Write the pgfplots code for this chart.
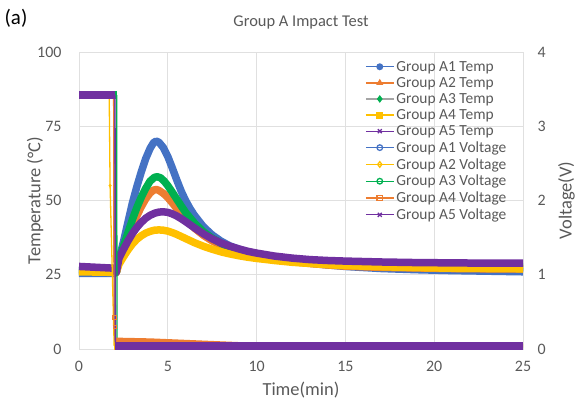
\documentclass[border=0pt]{standalone}
\usepackage{pgfplots}
\pgfplotsset{compat=1.18}
\usepackage{fontspec}
\setmainfont{Carlito}
\definecolor{cblue}{HTML}{4472C4}
\definecolor{corange}{HTML}{ED7D31}
\definecolor{cgray}{HTML}{A5A5A5}
\definecolor{cgold}{HTML}{FFC000}
\definecolor{cpurple}{HTML}{7030A0}
\definecolor{cgreen}{HTML}{00B050}
\definecolor{txt}{HTML}{595959}
\definecolor{gridc}{HTML}{E0E0E0}
\begin{document}
\begin{tikzpicture}[x=1bp,y=1bp]
\pgfplotsset{
  base/.style={scale only axis, width=444bp, height=297bp, at={(0,0)}, anchor=south west,
    xmin=0, xmax=25, clip=false,
    tick style={draw=none}, major tick length=0pt,
    ticklabel style={font=\fontsize{16}{18}\selectfont, text=txt},
    /pgf/number format/assume math mode=true,
    label style={font=\fontsize{18.5}{20}\selectfont, text=txt}},
  tcurve/.style={line width=7.5bp, line join=round, mark=none},
  vthick/.style={line width=8bp, mark=none},
  vthin/.style={line width=1.3bp, mark=none},
}
\begin{axis}[base,
  ymin=0, ymax=100, xtick={0,5,...,25}, ytick={0,25,...,100},
  grid=major, major grid style={draw=gridc, line width=0.8bp},
  axis line style={draw=gridc, line width=0.8bp},
  xticklabel style={yshift=-9bp}, yticklabel style={xshift=-14bp},
  xlabel={Time(min)}, ylabel={Temperature (\textdegree C)},
  xlabel style={at={(axis description cs:0.5,0)}, anchor=center, yshift=-41bp},
  ylabel style={at={(axis description cs:-0.099,0.5)}, anchor=center},
  title={Group A Impact Test},
  title style={at={(axis description cs:0.5,1)}, anchor=center, yshift=24bp, font=\fontsize{16.5}{18}\selectfont, text=txt},
  legend style={at={(0.644,0.977)}, anchor=north west, draw=none, fill=none,
    font=\fontsize{15.5}{16}\selectfont, text=txt, row sep=0.6bp, inner sep=0pt},
  legend cell align=left,
  legend image code/.code={\draw[line width=1.3bp, mark size=2.8bp, mark repeat=2,mark phase=2] plot coordinates {(0bp,0bp)(14bp,0bp)(28bp,0bp)};},
]
% Temperature A1
\addplot[tcurve, cblue, forget plot] coordinates {(0,25.5)(2.0,25.5)(2.1,25.8)(2.25,30)(2.5,36)(2.75,42.5)(3.0,49)(3.25,54.5)(3.5,59.5)(3.75,64)(4.0,67.5)(4.2,69.5)(4.35,70)(4.5,69.6)(4.75,67.8)(5.0,64.8)(5.25,61)(5.5,57)(5.75,53.2)(6.0,50)(6.25,47.3)(6.5,45)(7.0,41.2)(7.5,38.4)(8.0,36.3)(8.5,34.7)(9.0,33.6)(9.5,32.6)(10,31.8)(11,30.5)(12,29.6)(13,28.9)(14,28.3)(15,27.8)(17,27.1)(19,26.7)(21,26.4)(23,26.2)(25,26.0)};
% A2
\addplot[tcurve, corange, forget plot] coordinates {(0,26.8)(2.0,26.3)(2.1,25.8)(2.25,29.5)(2.5,33.5)(2.75,37.5)(3.0,41.3)(3.25,44.8)(3.5,47.8)(3.75,50.5)(4.0,52.5)(4.2,53.5)(4.35,53.7)(4.5,53.4)(4.75,52.4)(5.0,51)(5.25,49.2)(5.5,47.3)(5.75,45.4)(6.0,43.7)(6.5,40.7)(7.0,38.3)(7.5,36.4)(8.0,34.9)(8.5,33.7)(9.0,32.7)(9.5,32)(10,31.3)(11,30.2)(12,29.4)(13,28.8)(14,28.3)(15,27.9)(17,27.5)(19,27.3)(21,27.1)(23,27)(25,27)};
% A3
\addplot[tcurve, cgreen, forget plot] coordinates {(0,26.3)(2.0,26.3)(2.1,25.8)(2.25,30)(2.5,34.5)(2.75,39)(3.0,43.5)(3.25,47.5)(3.5,51)(3.75,54)(4.0,56.5)(4.25,57.8)(4.4,58)(4.6,57.6)(4.8,56.5)(5.0,55)(5.25,52.8)(5.5,50.5)(5.75,48.2)(6.0,46)(6.5,42.4)(7.0,39.5)(7.5,37.3)(8.0,35.6)(8.5,34.3)(9.0,33.3)(9.5,32.5)(10,31.8)(11,30.6)(12,29.8)(13,29.2)(14,28.7)(15,28.4)(17,28)(19,27.8)(21,27.7)(23,27.6)(25,27.6)};
% A4
\addplot[tcurve, cgold, forget plot] coordinates {(0,26)(2.0,25.8)(2.1,25.8)(2.25,28.5)(2.5,31)(2.75,33.3)(3.0,35.3)(3.25,36.9)(3.5,38.1)(3.75,39)(4.0,39.6)(4.25,40)(4.5,40.1)(4.75,40)(5.0,39.7)(5.25,39.2)(5.5,38.6)(6.0,37.2)(6.5,35.8)(7.0,34.6)(7.5,33.6)(8.0,32.7)(8.5,32)(9.0,31.4)(9.5,30.9)(10,30.5)(11,29.8)(12,29.2)(13,28.8)(14,28.4)(15,28.1)(17,27.7)(19,27.4)(21,27.2)(23,27.1)(25,27)};
% A5
\addplot[tcurve, cpurple, forget plot] coordinates {(0,27.8)(2.0,27.2)(2.1,25.8)(2.25,30.5)(2.5,33.5)(2.75,36.3)(3.0,38.8)(3.25,40.9)(3.5,42.6)(3.75,44)(4.0,45)(4.25,45.7)(4.5,46.1)(4.75,46.2)(5.0,46)(5.25,45.5)(5.5,44.8)(5.75,43.9)(6.0,42.9)(6.5,40.8)(7.0,38.8)(7.5,37.1)(8.0,35.7)(8.5,34.6)(9.0,33.7)(9.5,32.9)(10,32.3)(11,31.3)(12,30.6)(13,30.1)(14,29.8)(15,29.6)(17,29.3)(19,29.1)(21,29)(23,28.9)(25,28.9)};
% legend entries
\addlegendimage{cblue, mark=*, mark options={fill=cblue}}
\addlegendentry{Group A1 Temp}
\addlegendimage{corange, mark=triangle*, mark options={fill=corange}}
\addlegendentry{Group A2 Temp}
\addlegendimage{cgray, mark=diamond*, mark options={fill=cgreen, draw=cgreen}}
\addlegendentry{Group A3 Temp}
\addlegendimage{cgold, mark=square*, mark options={fill=cgold}}
\addlegendentry{Group A4 Temp}
\addlegendimage{cpurple, mark=x}
\addlegendentry{Group A5 Temp}
\addlegendimage{cblue, mark=o, mark options={fill=white}}
\addlegendentry{Group A1 Voltage}
\addlegendimage{cgold, mark=diamond, mark options={fill=white}}
\addlegendentry{Group A2 Voltage}
\addlegendimage{cgreen, mark=o, mark options={fill=white}}
\addlegendentry{Group A3 Voltage}
\addlegendimage{corange, mark=square, mark options={fill=white}}
\addlegendentry{Group A4 Voltage}
\addlegendimage{cpurple, mark=x}
\addlegendentry{Group A5 Voltage}
\end{axis}
\begin{axis}[base,
  ymin=0, ymax=4, ytick={0,1,2,3,4},
  axis y line*=right, hide x axis,
  y axis line style={draw=none},
  yticklabel style={xshift=11bp},
  ylabel={Voltage(V)},
  ylabel style={at={(axis description cs:1.117,0.5)}, anchor=south, inner sep=0pt, rotate=0},
]
% A1 voltage
\addplot[vthin, cblue, forget plot] coordinates {(2.0,3.42)(2.02,0.04)};
\addplot[vthick, cblue, forget plot] coordinates {(0,3.42)(2.0,3.42)};
\addplot[vthick, cblue, forget plot] coordinates {(2.02,0.04)(25,0.04)};
% A2 voltage
\addplot[vthin, cgold, forget plot] coordinates {(1.7,3.42)(1.75,2.2)(1.98,0.04)};
\addplot[vthick, cgold, forget plot] coordinates {(0,3.42)(1.7,3.42)};
\addplot[cgold, only marks, mark=*, mark size=1.3bp, forget plot] coordinates {(1.75,2.2)};
\addplot[vthick, cgold, forget plot] coordinates {(1.98,0.04)(25,0.04)};
% A3 voltage
\addplot[vthin, cgreen, forget plot] coordinates {(2.12,3.42)(2.14,0.04)};
\addplot[vthick, cgreen, forget plot] coordinates {(0,3.42)(2.12,3.42)};
\addplot[vthick, cgreen, forget plot] coordinates {(2.14,0.04)(25,0.04)};
% A4 voltage
\addplot[vthin, corange, forget plot] coordinates {(1.95,3.42)(1.97,0.43)(2.0,0.3)(2.05,0.12)};
\addplot[vthick, corange, forget plot] coordinates {(0,3.42)(1.95,3.42)};
\addplot[corange, only marks, mark=square, mark size=1.8bp, forget plot] coordinates {(1.97,0.43)(2.0,0.3)};
\addplot[line width=5bp, corange, forget plot] coordinates {(2.05,0.12)(4,0.11)(6,0.09)(8,0.07)(10,0.05)(25,0.04)};
% A5 voltage
\addplot[vthin, cpurple, forget plot] coordinates {(2.03,3.42)(2.05,0.04)};
\addplot[vthick, cpurple, forget plot] coordinates {(0,3.42)(2.05,3.42)};
\addplot[vthick, cpurple, forget plot] coordinates {(2.05,0.04)(25,0.04)};
\end{axis}
\node[anchor=center, font=\fontsize{21}{23}\selectfont] at (-63bp,331bp) {(a)};
\pgfresetboundingbox
\path (-79bp,-53bp) rectangle (497bp,349bp);
\end{tikzpicture}
\end{document}
